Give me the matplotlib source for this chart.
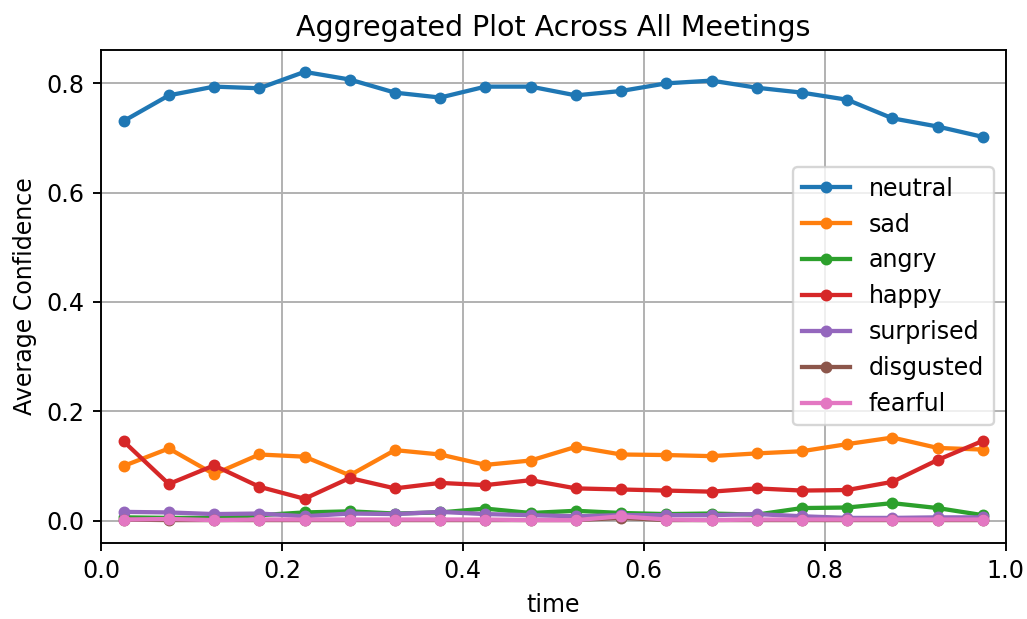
import matplotlib
matplotlib.use("Agg")
import matplotlib.pyplot as plt
import numpy as np

time = [0.025, 0.075, 0.125, 0.175, 0.225, 0.275, 0.325, 0.375, 0.425, 0.475,
        0.525, 0.575, 0.625, 0.675, 0.725, 0.775, 0.825, 0.875, 0.925, 0.975]
neutral = [0.731, 0.778, 0.794, 0.791, 0.821, 0.807, 0.783, 0.774, 0.794, 0.794,
           0.778, 0.786, 0.800, 0.805, 0.792, 0.783, 0.770, 0.736, 0.721, 0.702]
sad = [0.100, 0.132, 0.085, 0.121, 0.117, 0.083, 0.129, 0.121, 0.102, 0.110,
       0.135, 0.121, 0.120, 0.118, 0.123, 0.127, 0.140, 0.152, 0.133, 0.130]
angry = [0.006, 0.005, 0.005, 0.010, 0.015, 0.017, 0.013, 0.015, 0.022, 0.014,
         0.018, 0.014, 0.012, 0.013, 0.011, 0.023, 0.024, 0.032, 0.023, 0.010]
happy = [0.145, 0.067, 0.101, 0.062, 0.040, 0.078, 0.059, 0.069, 0.065, 0.074,
         0.059, 0.057, 0.055, 0.053, 0.059, 0.055, 0.056, 0.071, 0.111, 0.146]
surprised = [0.016, 0.015, 0.012, 0.013, 0.008, 0.013, 0.012, 0.016, 0.012, 0.010,
             0.008, 0.010, 0.010, 0.010, 0.012, 0.008, 0.005, 0.005, 0.006, 0.006]
disgusted = [0.002, 0.001, 0.001, 0.001, 0.001, 0.001, 0.001, 0.001, 0.001, 0.001,
             0.001, 0.005, 0.001, 0.001, 0.001, 0.001, 0.001, 0.001, 0.001, 0.001]
fearful = [0.002, 0.003, 0.001, 0.002, 0.002, 0.002, 0.002, 0.002, 0.002, 0.001,
           0.001, 0.008, 0.002, 0.001, 0.002, 0.002, 0.002, 0.002, 0.002, 0.002]

series = [("neutral", neutral), ("sad", sad), ("angry", angry), ("happy", happy),
          ("surprised", surprised), ("disgusted", disgusted), ("fearful", fearful)]

DPI = 171
fig = plt.figure(figsize=(1027/DPI, 619/DPI), dpi=DPI)
ax = fig.add_axes([101/1027, 1-542.5/619, 904.5/1027, 492.5/619])
for name, vals in series:
    ax.plot(time, vals, marker="o", markersize=4, linewidth=1.8, label=name)
ax.set_xlim(0, 1)
ax.set_ylim(-0.04, 0.861)
ax.set_xticks([0.0, 0.2, 0.4, 0.6, 0.8, 1.0])
ax.set_yticks([0.0, 0.2, 0.4, 0.6, 0.8])
ax.grid(True)
ax.set_xlabel("time")
ax.set_ylabel("Average Confidence")
ax.set_title("Aggregated Plot Across All Meetings", fontsize=12)
ax.legend(loc="center right")
fig.savefig("out.png", dpi=DPI)
